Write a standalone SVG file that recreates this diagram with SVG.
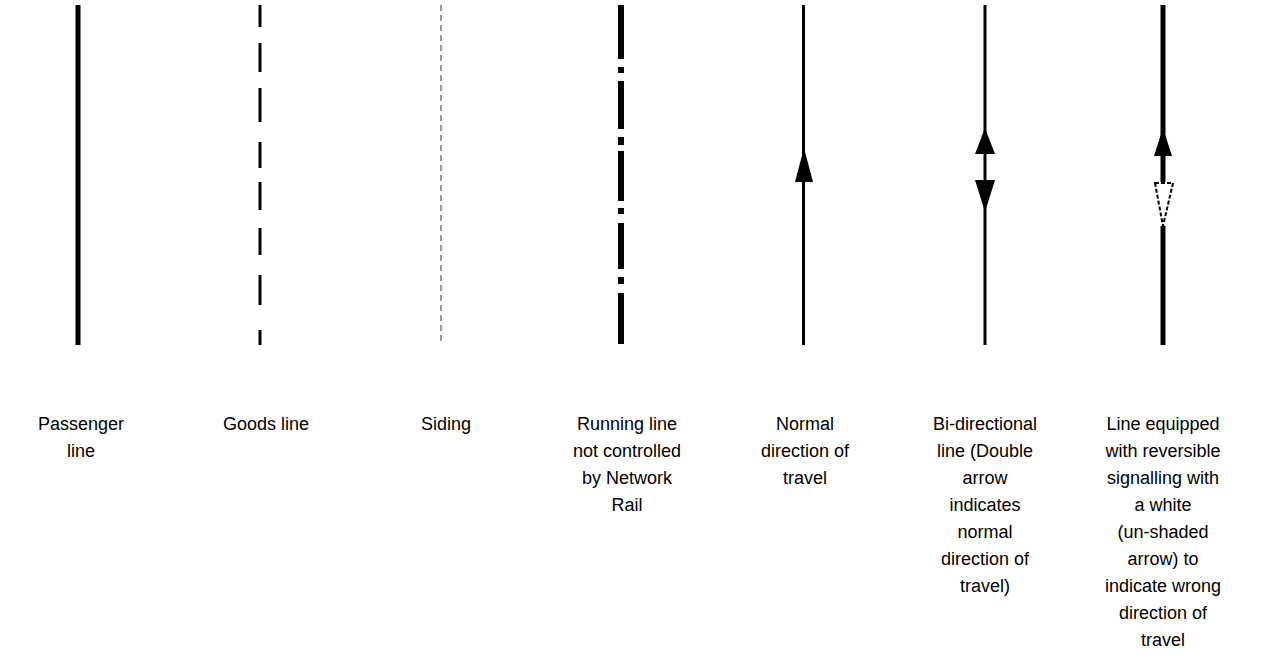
<svg xmlns="http://www.w3.org/2000/svg" width="1266" height="658" viewBox="0 0 1266 658">
<style>
.lbl{font-family:"Liberation Sans",Arial,sans-serif;font-size:18px;fill:#000;text-anchor:middle}
.solid{fill:#000}
</style>
<rect width="1266" height="658" fill="#fff"/>
<g id="connectors">
</g>
<g id="passenger">
<rect class="solid" x="75.5" y="5" width="5" height="340"/>
<text class="lbl"><tspan x="81" y="430">Passenger</tspan><tspan x="81" y="457">line</tspan></text>
</g>
<g id="goods">
<line x1="260" y1="5" x2="260" y2="345" stroke="#000" stroke-width="3" stroke-dasharray="22 16 29 16 34 20 26 14 28 18 27 20 30 25 15"/>
<text class="lbl"><tspan x="266" y="430">Goods line</tspan></text>
</g>
<g id="siding">
<line x1="441" y1="5" x2="441" y2="345" stroke="#999" stroke-width="2" stroke-dasharray="6 4"/>
<text class="lbl"><tspan x="446" y="430">Siding</tspan></text>
</g>
<g id="running">
<line x1="621" y1="5" x2="621" y2="345" stroke="#000" stroke-width="6" stroke-dasharray="54 8 6 8 48 8 8 6 50 7 6 9 46 8 7 9 51"/>
<text class="lbl"><tspan x="627" y="430">Running line</tspan><tspan x="627" y="457">not controlled</tspan><tspan x="627" y="484">by Network</tspan><tspan x="627" y="511">Rail</tspan></text>
</g>
<g id="normal">
<rect class="solid" x="802" y="5" width="3" height="340"/>
<polygon class="solid" points="804,148 795,182 813,182"/>
<text class="lbl"><tspan x="805" y="430">Normal</tspan><tspan x="805" y="457">direction of</tspan><tspan x="805" y="484">travel</tspan></text>
</g>
<g id="bidirectional">
<rect class="solid" x="983.5" y="5" width="3" height="340"/>
<polygon class="solid" points="985,128 975,154 995,154"/>
<polygon class="solid" points="975,180 995,180 985,212"/>
<text class="lbl"><tspan x="985" y="430">Bi-directional</tspan><tspan x="985" y="457">line (Double</tspan><tspan x="985" y="484">arrow</tspan><tspan x="985" y="511">indicates</tspan><tspan x="985" y="538">normal</tspan><tspan x="985" y="565">direction of</tspan><tspan x="985" y="592">travel)</tspan></text>
</g>
<g id="reversible">
<rect class="solid" x="1160.5" y="5" width="5" height="177"/>
<rect class="solid" x="1160.5" y="226" width="5" height="119"/>
<polygon class="solid" points="1163,128 1154,156 1172,156"/>
<polygon points="1155,183 1173,183 1163,226" fill="#fff" stroke="#000" stroke-width="2" stroke-dasharray="4 2"/>
<text class="lbl"><tspan x="1163" y="430">Line equipped</tspan><tspan x="1163" y="457">with reversible</tspan><tspan x="1163" y="484">signalling with</tspan><tspan x="1163" y="511">a white</tspan><tspan x="1163" y="538">(un-shaded</tspan><tspan x="1163" y="565">arrow) to</tspan><tspan x="1163" y="592">indicate wrong</tspan><tspan x="1163" y="619">direction of</tspan><tspan x="1163" y="646">travel</tspan></text>
</g>
</svg>
